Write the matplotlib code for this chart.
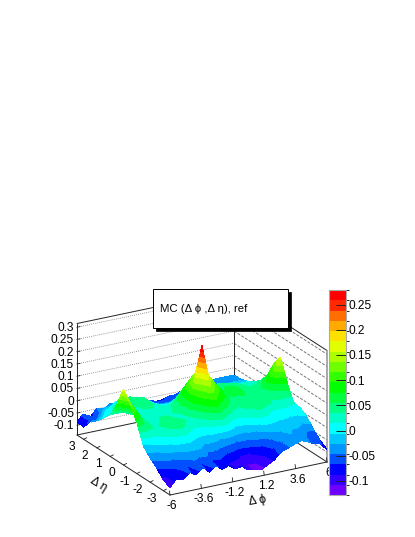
import numpy as np
import matplotlib
matplotlib.use("Agg")
import matplotlib.pyplot as plt
from matplotlib.colors import ListedColormap, BoundaryNorm
from matplotlib.patches import Rectangle

plt.rcParams['font.family'] = ['Liberation Sans', 'DejaVu Sans']

# bin centres
phi = [-6, -5.5, -5, -4.5, -4, -3.5, -3, -2.5, -2, -1.5, -1, -0.5, 0,
       0.5, 1, 1.5, 2, 2.5, 3, 3.5, 4, 4.5, 5, 5.5, 6]
eta = [3.5, 3, 2.5, 2, 1.5, 1, 0.5, 0, -0.5, -1, -1.5, -2, -2.5, -3, -3.5]

# one row per eta value, one column per phi value
z_rows = [
    [-.085, -.06, -.08, -.05, -.06, -.04, -.05, -.04, -.05, -.05, -.06, -.06, -.07, -.07, -.06, -.06, -.05, -.05, -.04, -.04, -.03, -.03, -.03, -.03, -.03],
    [-.09, -.06, -.06, -.03, -.03, -.02, -.02, -.03, -.03, -.04, -.05, -.06, -.06, -.06, -.06, -.05, -.05, -.05, -.05, -.04, -.04, -.04, -.03, -.03, -.03],
    [-.05, -.05, -.02, -.01, .01, .01, 0, 0, -.01, -.03, -.04, -.04, -.04, -.04, -.03, -.03, -.03, -.03, -.02, -.02, -.02, -.02, -.02, -.02, -.02],
    [-.03, -.01, .01, .02, .03, .04, .03, .02, 0, -.01, -.02, -.02, -.02, -.02, -.01, 0, 0, 0, .01, .01, 0, 0, 0, 0, -.01],
    [0, .01, .02, .03, .04, .05, .05, .03, .01, 0, 0, .01, .04, .03, .02, .03, .04, .04, .04, .035, .03, .02, .02, .02, 0],
    [.03, .03, .03, .03, .03, .04, .04, .03, .02, .02, .04, .07, .10, .08, .06, .05, .05, .05, .05, .04, .04, .03, .03, .04, .03],
    [.09, .07, .04, .03, .03, .03, .03, .03, .03, .05, .08, .11, .15, .11, .08, .06, .05, .06, .06, .05, .04, .04, .05, .08, .12],
    [.17, .11, .05, .03, .03, .03, .03, .03, .04, .06, .085, .15, .28, .15, .115, .08, .06, .06, .06, .05, .05, .05, .08, .12, .165],
    [.125, .09, .05, .03, .03, .04, .04, .03, .03, .05, .08, .11, .15, .11, .085, .06, .04, .05, .05, .05, .04, .04, .05, .06, .08],
    [.07, .055, .04, .03, .04, .05, .05, .04, .03, .03, .05, .08, .10, .07, .05, .03, .03, .04, .05, .05, .04, .03, .03, .02, .015],
    [-.01, 0, .01, .02, .03, .04, .04, .02, .01, .01, .02, .03, .04, .02, 0, 0, .01, .02, .03, .02, 0, 0, 0, .005, .01],
    [-.04, -.03, -.02, -.01, 0, 0, 0, -.01, -.02, -.02, -.02, -.03, -.03, -.04, -.04, -.04, -.03, -.02, -.01, -.01, -.01, -.01, -.015, -.02, -.01],
    [-.065, -.06, -.05, -.045, -.04, -.03, -.03, -.03, -.05, -.05, -.06, -.07, -.08, -.09, -.09, -.08, -.07, -.06, -.04, -.03, -.02, -.03, -.03, -.05, -.045],
    [-.095, -.08, -.075, -.06, -.07, -.05, -.07, -.055, -.08, -.075, -.09, -.10, -.10, -.11, -.11, -.10, -.08, -.07, -.05, -.04, -.03, -.03, -.05, -.05, -.07],
    [-.11, -.08, -.09, -.065, -.08, -.055, -.08, -.06, -.08, -.07, -.09, -.085, -.105, -.11, -.115, -.10, -.085, -.06, -.05, -.04, -.03, -.04, -.055, -.06, -.09],
]

palette = ['#6e00ff', '#3200ff', '#0000ff', '#0050ff', '#0096ff', '#00c8ff', '#00ffff',
           '#00ffc8', '#00ff82', '#00ff3c', '#00ff00', '#32ff00', '#6eff00', '#aaff00',
           '#e1ff00', '#ffe100', '#ffaa00', '#ff6e00', '#ff2800', '#ff0000']

z_ticks = [-0.1, -0.05, 0, 0.05, 0.1, 0.15, 0.2, 0.25, 0.3]
z_tick_labels = ['-0.1', '-0.05', '0', '0.05', '0.1', '0.15', '0.2', '0.25', '0.3']
phi_ticks = [-6, -3.6, -1.2, 1.2, 3.6, 6]
phi_tick_labels = ['-6', '-3.6', '-1.2', '1.2', '3.6', '6']
eta_ticks = [3, 2, 1, 0, -1, -2, -3]
cbar_ticks = [-0.1, -0.05, 0, 0.05, 0.1, 0.15, 0.2, 0.25]
cbar_labels = ['-0.1', '-0.05', '0', '0.05', '0.1', '0.15', '0.2', '0.25']

Z_MIN, Z_MAX = -0.14, 0.315
LEVEL_LO, LEVEL_HI = -0.128, 0.279


def project(p, e, z):
    # oblique view of the lego box, result is in figure pixels
    u = (np.asarray(p, dtype=float) + 6) / 12
    v = (np.asarray(e, dtype=float) + 3.5) / 7
    x = 170 + 157 * u - 93 * v
    y = 495 - 33 * u - 60 * v - (np.asarray(z, dtype=float) - Z_MIN) * 245
    return x, y


def line3(ax, a, b, **kw):
    x, y = project([a[0], b[0]], [a[1], b[1]], [a[2], b[2]])
    ax.plot(x, y, **kw)


fig = plt.figure(figsize=(4.15, 5.37), dpi=100)
ax = fig.add_axes([0, 0, 1, 1])
ax.set_xlim(0, 415)
ax.set_ylim(537, 0)
ax.axis('off')

frame = dict(color='#222222', lw=0.7, zorder=1, solid_capstyle='round')
grid = dict(color='#777777', lw=0.6, ls=(0, (1, 1.5)), zorder=1)
grid_side = dict(color='#777777', lw=0.7, ls=(0, (3, 1.5)), zorder=1)

# back walls and floor
for z in z_ticks:
    line3(ax, (-6, 3.5, z), (6, 3.5, z), **grid)
    line3(ax, (6, 3.5, z), (6, -3.5, z), **grid_side)
line3(ax, (-6, 3.5, Z_MIN), (6, 3.5, Z_MIN), **frame)
line3(ax, (6, 3.5, Z_MIN), (6, -3.5, Z_MIN), **frame)
line3(ax, (-6, 3.5, Z_MAX), (6, 3.5, Z_MAX), **frame)
line3(ax, (6, 3.5, Z_MAX), (6, -3.5, Z_MAX), **frame)
line3(ax, (-6, 3.5, Z_MIN), (-6, 3.5, Z_MAX), **frame)
line3(ax, (6, 3.5, Z_MIN), (6, 3.5, Z_MAX), **frame)
line3(ax, (6, -3.5, Z_MIN), (6, -3.5, Z_MAX), color='#999999', lw=1.2, zorder=1)
line3(ax, (-6, 3.5, Z_MIN), (-6, -3.5, Z_MIN), **frame)
line3(ax, (-6, -3.5, Z_MIN), (6, -3.5, Z_MIN), **frame)

# z axis labels
for z, lab in zip(z_ticks, z_tick_labels):
    x, y = project(-6, 3.5, z)
    ax.plot([x, x + 3], [y, y - 0.6], color='#222222', lw=0.6, zorder=1)
    ax.text(x - 3, y + 1, lab, ha='right', va='center', fontsize=8.6, zorder=2)

# phi axis
for p, lab in zip(phi_ticks, phi_tick_labels):
    x, y = project(p, -3.5, Z_MIN)
    ax.plot([x, x - 0.5], [y, y - 4], color='#222222', lw=0.6, zorder=1)
    ax.text(x + 2, y + 11, lab, ha='center', va='center', fontsize=8.6, zorder=2)
ax.text(258, 501, 'Δ ϕ', ha='center', va='center', fontsize=8.6, rotation=10, zorder=2)

# eta axis
for e in eta_ticks:
    x, y = project(-6, e, Z_MIN)
    ax.plot([x, x + 3], [y, y - 1.5], color='#222222', lw=0.6, zorder=1)
    ax.text(x - 12, y + 8, str(e), ha='center', va='center', fontsize=8.6, zorder=2)
ax.text(98, 484, 'Δ η', ha='center', va='center', fontsize=8.6, rotation=-32, zorder=2)

# surface, cell by cell from the far corner to the near one
levels = np.linspace(LEVEL_LO, LEVEL_HI, len(palette) + 1)
cmap = ListedColormap(palette)
norm = BoundaryNorm(levels, cmap.N)
P, E = np.meshgrid(phi, eta)
Z = np.clip(np.array(z_rows), LEVEL_LO + 1e-4, LEVEL_HI - 1e-4)
X_px, Y_px = project(P, E, Z)
for i in range(len(eta) - 1):
    for j in range(len(phi) - 2, -1, -1):
        ax.contourf(X_px[i:i + 2, j:j + 2], Y_px[i:i + 2, j:j + 2], Z[i:i + 2, j:j + 2],
                    levels=levels, cmap=cmap, norm=norm, antialiased=False, zorder=3)

# legend box with its drop shadow
ax.add_patch(Rectangle((156, 292), 135, 39, fc='black', ec='black', lw=0.5, zorder=5))
ax.add_patch(Rectangle((153, 289), 135, 39, fc='white', ec='black', lw=0.7, zorder=6))
ax.text(160, 309, 'MC (Δ ϕ ,Δ η), ref', ha='left', va='center', fontsize=8.2, zorder=7)

# palette column
cax = fig.add_axes([329 / 415, 1 - 495 / 537, 17 / 415, 205 / 537])
sm = plt.cm.ScalarMappable(norm=norm, cmap=cmap)
cb = fig.colorbar(sm, cax=cax, spacing='proportional', drawedges=False)
cb.set_ticks(cbar_ticks)
cb.set_ticklabels(cbar_labels)
cb.ax.tick_params(axis='y', direction='in', length=7, width=0.7, labelsize=8.6, pad=2, color='#222222')
cb.outline.set_edgecolor('#aaaaaa')
cb.outline.set_linewidth(0.8)

fig.savefig('out.png', dpi=100)
